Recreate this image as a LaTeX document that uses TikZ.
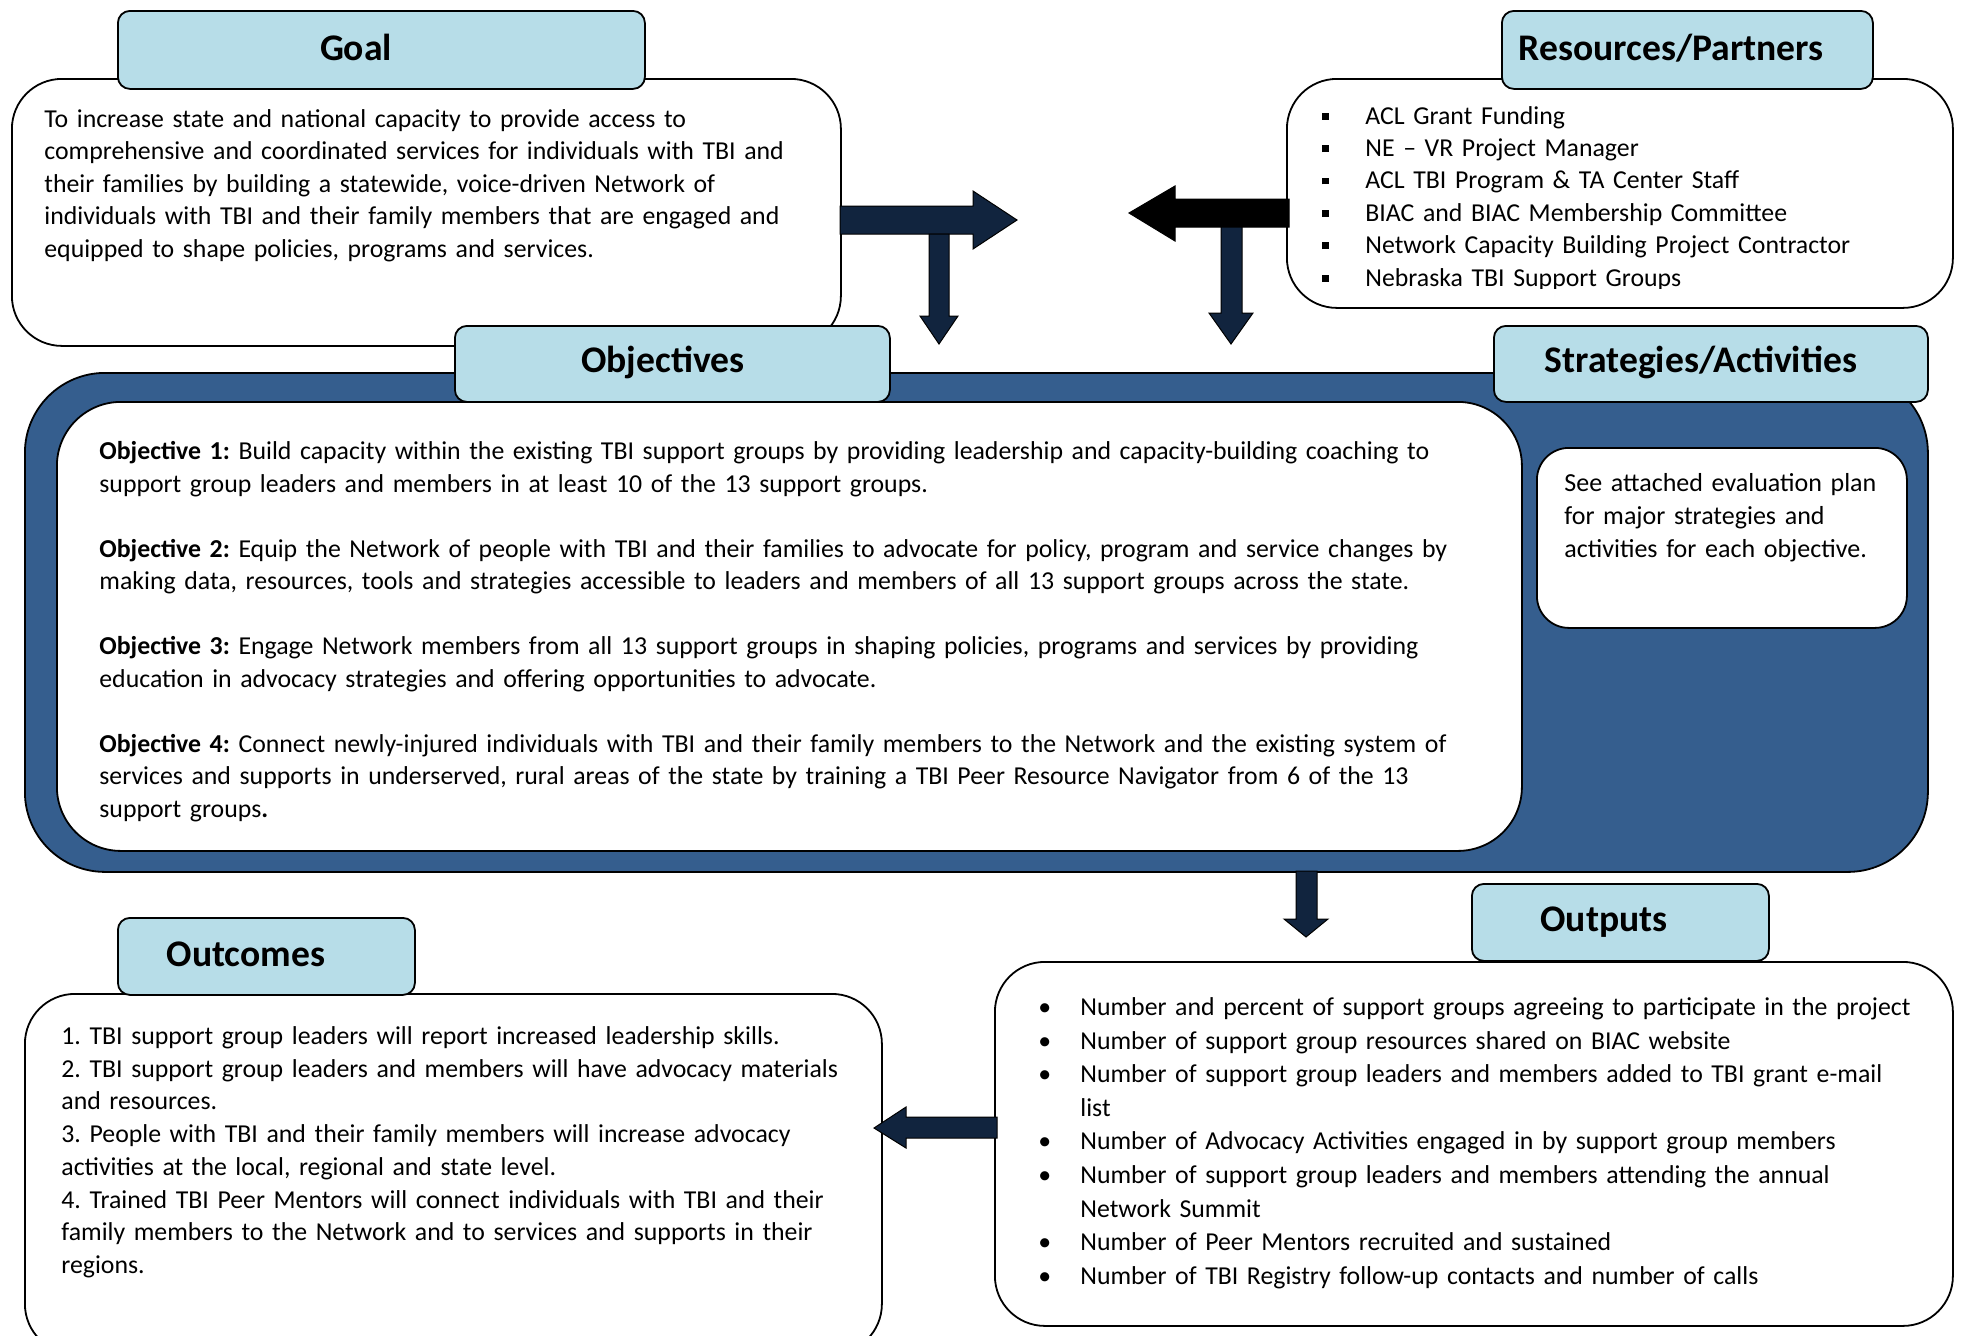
\documentclass[tikz,border=0pt]{standalone}
\usepackage{fontspec}
\setmainfont{Carlito}
\definecolor{titlefill}{RGB}{183,221,232}
\definecolor{panelblue}{RGB}{53,94,142}
\definecolor{navy}{RGB}{17,36,62}
\newcommand{\sqb}{\makebox[21.5pt][l]{\rule[2.2pt]{3.4pt}{3.4pt}}}
\newcommand{\dotb}{\makebox[21pt][l]{•}}
\frenchspacing
\begin{document}
\begin{tikzpicture}[x=0.5pt,y=-0.5pt,
  box/.style={draw=black, line width=0.9pt, fill=white, anchor=north west, inner sep=0pt},
  titlebox/.style={draw=black, line width=0.9pt, fill=titlefill, anchor=north west, inner sep=0pt, rounded corners=6pt},
  titletext/.style={font=\fontsize{18.8}{22}\selectfont\bfseries, inner sep=0pt},
  body/.style={anchor=base west, inner sep=0pt, align=left},
  blockarrow/.style={fill=navy, draw=black, line width=0.5pt},
]
\useasboundingbox (0,0) rectangle (1965,1335);
\clip (0,0) rectangle (1965,1335);

% Goal
\node[box, rounded corners=25pt, minimum width=414.5pt, minimum height=133.5pt] (goalbox) at (11,78) {};
\node[titlebox, minimum width=263.5pt, minimum height=39pt] (goaltitle) at (117,10) {};
\node[titletext] (goaltitletext) at (356,47) {Goal};
\node[body, text width=405pt, font=\fontsize{12.9}{16.3}\selectfont] (goaltext) at (44,127) {To increase state and national capacity to provide access to\\
comprehensive and coordinated services for individuals with TBI and\\
their families by building a statewide, voice-driven Network of\\
individuals with TBI and their family members that are engaged and\\
equipped to shape policies, programs and services.};

% Resources
\node[box, rounded corners=25pt, minimum width=333pt, minimum height=114.5pt] (resbox) at (1286,78) {};
\node[titlebox, minimum width=185.5pt, minimum height=39pt] (restitle) at (1501,10) {};
\node[titletext] (restitletext) at (1671,48) {Resources/Partners};
\begin{scope}
\clip (1290,82) rectangle (1940,288);
\node[body, text width=320pt, font=\fontsize{12.9}{16.2}\selectfont] (restext) at (1322,124) {\sqb ACL Grant Funding\\
\sqb NE -- VR Project Manager\\
\sqb ACL TBI Program \& TA Center Staff\\
\sqb BIAC and BIAC Membership Committee\\
\sqb Network Capacity Building Project Contractor\\
\sqb Nebraska TBI Support Groups};
\end{scope}

% Panel
\node[box, fill=panelblue, rounded corners=40pt, minimum width=951.5pt, minimum height=249.5pt] (panel) at (24,372) {};
\node[box, rounded corners=32pt, minimum width=732.5pt, minimum height=224.5pt] (objbox) at (56,401) {};
\node[box, rounded corners=16pt, minimum width=185pt, minimum height=90pt] (stratbox) at (1536,447) {};
\node[titlebox, minimum width=217.5pt, minimum height=38pt] (objtitle) at (454,325) {};
\node[titletext] (objtitletext) at (663,362) {Objectives};
\node[titlebox, minimum width=217pt, minimum height=38pt] (strattitle) at (1493,325) {};
\node[titletext] (strattitletext) at (1701,362) {Strategies/Activities};

\node[body, text width=725pt, font=\fontsize{12.9}{16.25}\selectfont] (objtext) at (99,459.5) {\textbf{Objective 1:} Build capacity within the existing TBI support groups by providing leadership and capacity-building coaching to\\
support group leaders and members in at least 10 of the 13 support groups.\\[16.25pt]
\textbf{Objective 2:} Equip the Network of people with TBI and their families to advocate for policy, program and service changes by\\
making data, resources, tools and strategies accessible to leaders and members of all 13 support groups across the state.\\[16.25pt]
\textbf{Objective 3:} Engage Network members from all 13 support groups in shaping policies, programs and services by providing\\
education in advocacy strategies and offering opportunities to advocate.\\[16.25pt]
\textbf{Objective 4:} Connect newly-injured individuals with TBI and their family members to the Network and the existing system of\\
services and supports in underserved, rural areas of the state by training a TBI Peer Resource Navigator from 6 of the 13\\
support groups\textbf{.}};

\node[body, text width=175pt, font=\fontsize{13}{16.5}\selectfont] (strattext) at (1564,491) {See attached evaluation plan\\
for major strategies and\\
activities for each objective.};

% Outputs
\node[box, rounded corners=25pt, minimum width=479pt, minimum height=182pt] (outbox) at (994,961) {};
\node[titlebox, minimum width=148.5pt, minimum height=38.5pt] (outtitle) at (1471,883) {};
\node[titletext] (outtitletext) at (1604,922.5) {Outputs};
\node[body, text width=470pt, font=\fontsize{12.9}{16.8}\selectfont] (outtext) at (1038,1015.5) {\dotb Number and percent of support groups agreeing to participate in the project\\
\dotb Number of support group resources shared on BIAC website\\
\dotb Number of support group leaders and members added to TBI grant e-mail\\
\hspace*{21pt}list\\
\dotb Number of Advocacy Activities engaged in by support group members\\
\dotb Number of support group leaders and members attending the annual\\
\hspace*{21pt}Network Summit\\
\dotb Number of Peer Mentors recruited and sustained\\
\dotb Number of TBI Registry follow-up contacts and number of calls};

% Outcomes
\node[box, rounded corners=25pt, minimum width=428.5pt, minimum height=180pt] (outcbox) at (24,993) {};
\node[titlebox, minimum width=148.5pt, minimum height=38.5pt] (outctitle) at (117,917) {};
\node[titletext] (outctitletext) at (246,954) {Outcomes};
\node[body, text width=420pt, font=\fontsize{12.9}{16.35}\selectfont] (outctext) at (61,1044.5) {1. TBI support group leaders will report increased leadership skills.\\
2. TBI support group leaders and members will have advocacy materials\\
and resources.\\
3. People with TBI and their family members will increase advocacy\\
activities at the local, regional and state level.\\
4. Trained TBI Peer Mentors will connect individuals with TBI and their\\
family members to the Network and to services and supports in their\\
regions.};

% Block arrows
\draw[blockarrow] (840,206) -- (973,206) -- (973,191) -- (1017,220) -- (973,249) -- (973,234) -- (840,234) -- cycle;
\draw[blockarrow] (929,234) -- (949,234) -- (949,316) -- (958,316) -- (939,344) -- (920,316) -- (929,316) -- cycle;
\draw[blockarrow, fill=black] (1289,199) -- (1175,199) -- (1175,186) -- (1129,213) -- (1175,241) -- (1175,227) -- (1289,227) -- cycle;
\draw[blockarrow] (1221,227) -- (1242,227) -- (1242,313) -- (1253,313) -- (1231,344) -- (1209,313) -- (1221,313) -- cycle;
\draw[blockarrow] (1296,871) -- (1317,871) -- (1317,919) -- (1328,919) -- (1306,937) -- (1284,919) -- (1296,919) -- cycle;
\draw[blockarrow] (997,1117) -- (906,1117) -- (906,1107) -- (874,1128) -- (906,1148) -- (906,1138) -- (997,1138) -- cycle;
\end{tikzpicture}
\end{document}
